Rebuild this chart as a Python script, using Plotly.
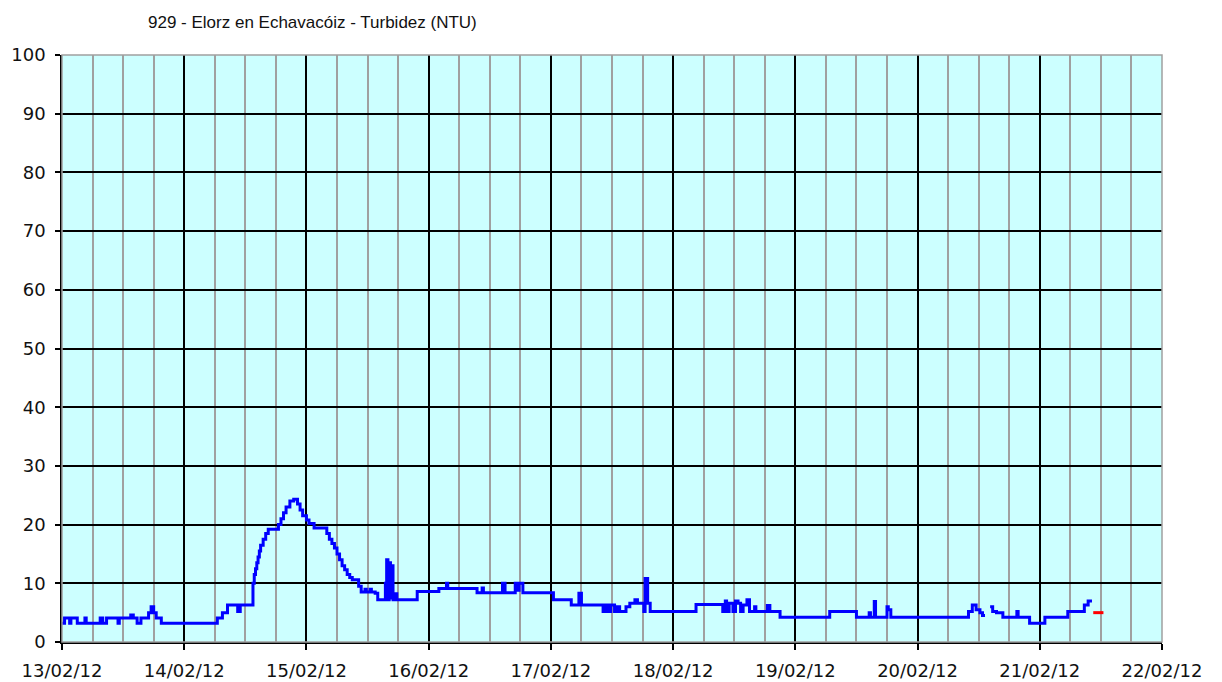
import pandas as pd
import plotly.graph_objects as go

# Hours since 13/02/12 00:00 and turbidity values (NTU), step series
hours = [0, 0.5, 1.5, 1.75, 3.0, 4.5, 4.75, 7.5, 8.0, 8.75, 11.0, 11.25, 13.5, 14.0, 14.75,
         15.5, 17.0, 17.5, 18.0, 18.5, 19.5, 30.5, 31.5, 32.5, 34.5, 35.0, 37.5, 37.75, 38.0,
         38.25, 38.5, 38.75, 39.0, 39.5, 40.0, 40.5, 42.5, 43.0, 43.5, 44.0, 44.75, 45.5, 46.25,
         46.75, 47.25, 48.0, 48.5, 49.5, 52.0, 52.5, 53.0, 53.5, 54.0, 54.5, 55.0, 55.5, 56.0,
         56.5, 57.0, 58.25, 58.75, 59.5, 59.75, 60.5, 60.75, 61.5, 62.0, 63.5, 63.75, 64.0,
         64.25, 64.5, 64.75, 65.0, 65.5, 65.75, 69.75, 74.0, 75.5, 75.75, 81.5, 82.5, 82.75,
         86.5, 87.0, 89.0, 89.25, 89.75, 90.5, 96.5, 100.0, 101.5, 102.0, 106.25, 106.75,
         107.25, 107.75, 108.5, 109.0, 109.5, 110.75, 111.5, 112.5, 113.0, 114.25, 114.5,
         115.0, 115.5, 124.5, 129.75, 130.25, 130.5, 131.0, 131.75, 132.25, 132.75, 133.25,
         133.75, 134.5, 135.0, 136.0, 136.25, 138.5, 139.0, 141.0, 150.75, 156.0, 158.5,
         158.75, 159.5, 159.75, 162.0, 162.25, 162.75, 178.0, 178.75, 179.5, 180.25, 180.75,
         181.25, 181.3, 182.25, 182.75, 183.5, 184.75, 187.5, 187.75, 190.0, 193.0, 197.5,
         200.75, 201.5, 202.25]
turbidity = [3.2, 4.1, 3.2, 4.1, 3.2, 4.1, 3.2, 4.1, 3.2, 4.1, 3.2, 4.1, 4.6, 4.1, 3.2,
             4.1, 5.0, 6.0, 5.0, 4.1, 3.2, 4.1, 5.0, 6.3, 5.2, 6.3, 10.0, 11.5, 12.5,
             13.5, 14.5, 15.5, 16.5, 17.5, 18.5, 19.2, 20.0, 21.0, 22.0, 23.0, 24.0, 24.3, 23.5,
             22.5, 21.5, 20.8, 20.2, 19.4, 18.5, 17.5, 16.8, 16.0, 15.0, 14.0, 13.0, 12.3, 11.5,
             11.0, 10.6, 9.5, 8.5, 9.0, 8.5, 9.0, 8.5, 8.3, 7.2, 10.0, 14.0, 7.2,
             13.5, 7.5, 13.0, 7.2, 8.2, 7.2, 8.6, 9.1, 10.0, 9.1, 8.4, 9.2, 8.4,
             10.0, 8.4, 10.0, 8.8, 10.0, 8.4, 7.2, 6.3, 8.3, 6.3, 5.2, 6.3,
             5.2, 6.3, 5.2, 6.0, 5.2, 6.0, 6.6, 7.2, 6.6, 5.2, 10.8,
             6.6, 5.2, 6.4, 5.2, 7.0, 5.2, 6.6, 5.2, 7.0, 6.6, 5.2,
             6.3, 7.2, 5.2, 6.0, 5.2, 6.2, 5.2, 4.2, 5.2, 4.2, 5.0,
             4.2, 6.9, 4.2, 6.0, 5.5, 4.2, 5.2, 6.3, 5.5, 5.0, 4.5,
             4.5, None, 6.0, 5.2, 5.0, 4.2, 5.2, 4.2, 3.2, 4.2, 5.2,
             6.3, 7.0, 7.0]

# Provisional (red) segment
hours_prov = [202.5, 204.5]
turbidity_prov = [5.0, 5.0]

start = pd.Timestamp("2012-02-13 00:00")
t_main = [start + pd.Timedelta(hours=h) for h in hours]
t_prov = [start + pd.Timedelta(hours=h) for h in hours_prov]

fig = go.Figure()
fig.add_trace(go.Scatter(x=t_main, y=turbidity, mode="lines", line_shape="hv",
                         line=dict(color="#0000FF", width=3), connectgaps=False,
                         showlegend=False))
fig.add_trace(go.Scatter(x=t_prov, y=turbidity_prov, mode="lines", line_shape="hv",
                         line=dict(color="#FF0000", width=3), showlegend=False))

fig.update_layout(
    width=1222, height=682,
    margin=dict(l=54, r=68, t=47, b=48, autoexpand=False),
    paper_bgcolor="white",
    plot_bgcolor="#CCFFFF",
    font=dict(family="DejaVu Sans", size=18, color="#111111"),
    title=dict(text="929 - Elorz en Echavacóiz - Turbidez (NTU)",
               font=dict(family="Liberation Sans", size=17, color="#111111"),
               xref="container", yref="container", x=140 / 1222, xanchor="left",
               y=1 - 14.5 / 682, yanchor="middle"),
)
fig.update_xaxes(
    range=[start, start + pd.Timedelta(days=9)],
    tickformat="%d/%m/%y", dtick=86400000, tick0=start,
    showgrid=True, gridcolor="#000000", gridwidth=1.5,
    minor=dict(dtick=6 * 3600000, showgrid=True, gridcolor="#A0A0A0", gridwidth=1.5),
    showline=True, linecolor="#000000", linewidth=1.5, mirror=False,
    ticks="outside", ticklen=6, tickcolor="#000000", tickwidth=1.5,
    ticklabelstandoff=6, automargin=False,
)
fig.update_yaxes(
    range=[0, 100], dtick=10, tick0=0,
    showgrid=True, gridcolor="#000000", gridwidth=1.5, zeroline=False,
    showline=True, linecolor="#000000", linewidth=1.5,
    ticks="outside", ticklen=5, tickcolor="#000000", tickwidth=1.5,
    ticklabelstandoff=6, automargin=False,
)
# grey border on top/right
fig.add_shape(type="rect", xref="paper", yref="paper", x0=0, x1=1, y0=0, y1=1,
              line=dict(color="#A0A0A0", width=1.5), layer="above")

fig.write_html("out.html")
